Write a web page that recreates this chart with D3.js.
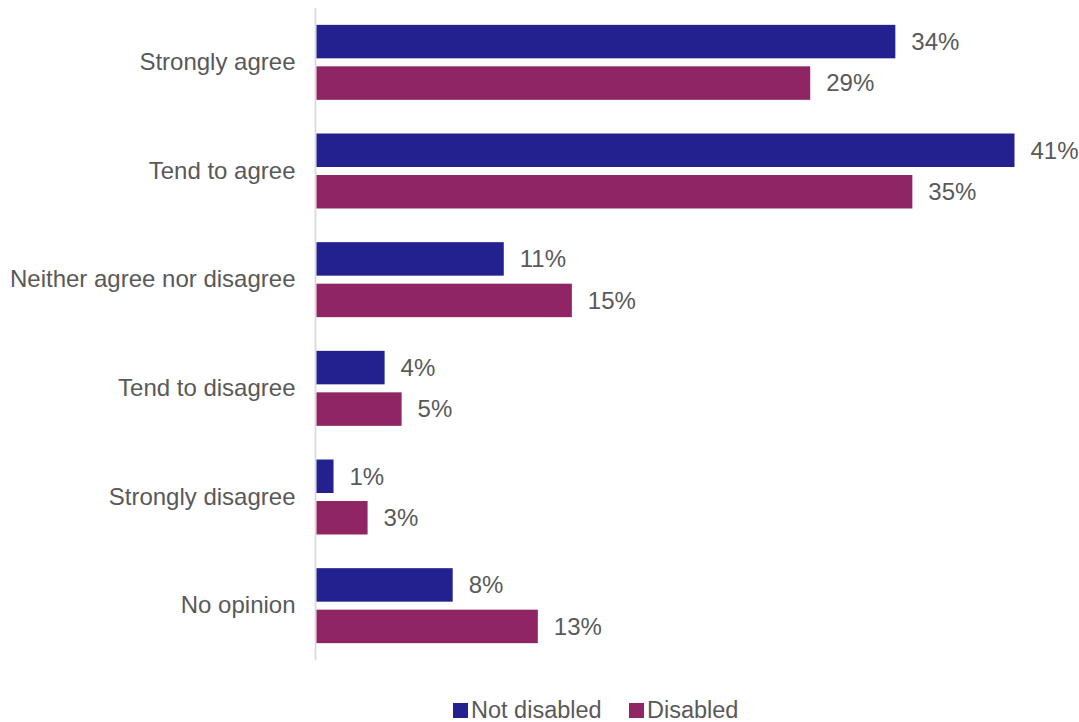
<!DOCTYPE html>
<html>
<head>
<meta charset="utf-8">
<script src="https://cdn.jsdelivr.net/npm/d3@7"></script>
<style>
  html, body { margin: 0; padding: 0; background: #fff; }
  svg { display: block; font-family: "Liberation Sans", Arial, sans-serif; }
</style>
</head>
<body>
<svg id="chart" width="1079" height="722"></svg>
<script>
// Survey responses by disability status (percent)
const categories = ["Strongly agree", "Tend to agree", "Neither agree nor disagree",
                    "Tend to disagree", "Strongly disagree", "No opinion"];
const seriesNames = ["Not disabled", "Disabled"];
const notDisabled = [34, 41, 11, 4, 1, 8];
const disabled = [29, 35, 15, 5, 3, 13];
const seriesColors = ["#22218f", "#8f2562"];

const rows = categories.map((c, i) => ({
  category: c,
  values: [
    { series: seriesNames[0], value: notDisabled[i] },
    { series: seriesNames[1], value: disabled[i] }
  ]
}));

const svg = d3.select("#chart");
const textColor = "#595959";
const fontSize = 24;

const x = d3.scaleLinear().domain([0, 45]).range([316.5, 1082.6]);
const y0 = d3.scaleBand().domain(categories).range([8, 660])
  .paddingInner(0.31).paddingOuter(0.155);
const y1 = d3.scaleBand().domain(seriesNames).range([0, y0.bandwidth()])
  .paddingInner(0.193);
const color = d3.scaleOrdinal().domain(seriesNames).range(seriesColors);

// Category axis line
svg.append("line")
  .attr("x1", 315.5).attr("x2", 315.5)
  .attr("y1", 8).attr("y2", 660)
  .attr("stroke", "#d9d9d9").attr("stroke-width", 1.8);

// Category labels
const yAxis = d3.axisLeft(y0).tickSize(0).tickPadding(20);
const gAxis = svg.append("g").attr("transform", "translate(315.5,0)").call(yAxis);
gAxis.select(".domain").remove();
gAxis.selectAll("text")
  .attr("fill", textColor)
  .style("font-size", fontSize + "px")
  .style("font-family", "'Liberation Sans', Arial, sans-serif");

// Bars and value labels
const groups = svg.append("g").selectAll("g")
  .data(rows).join("g")
  .attr("transform", d => `translate(0,${y0(d.category)})`);

groups.selectAll("rect")
  .data(d => d.values).join("rect")
  .attr("x", x(0))
  .attr("y", d => y1(d.series))
  .attr("width", d => x(d.value) - x(0))
  .attr("height", y1.bandwidth())
  .attr("fill", d => color(d.series));

groups.selectAll("text")
  .data(d => d.values).join("text")
  .attr("x", d => x(d.value) + 16)
  .attr("y", d => y1(d.series) + y1.bandwidth() / 2)
  .attr("dy", "0.35em")
  .attr("fill", textColor)
  .style("font-size", fontSize + "px")
  .text(d => d.value + "%");

// Legend
const legendItems = [
  { name: seriesNames[0], x: 453 },
  { name: seriesNames[1], x: 629 }
];
const legend = svg.append("g").selectAll("g")
  .data(legendItems).join("g")
  .attr("transform", d => `translate(${d.x},0)`);
legend.append("rect")
  .attr("x", 0).attr("y", 703)
  .attr("width", 15).attr("height", 15)
  .attr("fill", d => color(d.name));
legend.append("text")
  .attr("x", 18).attr("y", 718)
  .attr("fill", textColor)
  .style("font-size", "23.5px")
  .text(d => d.name);
</script>
</body>
</html>
